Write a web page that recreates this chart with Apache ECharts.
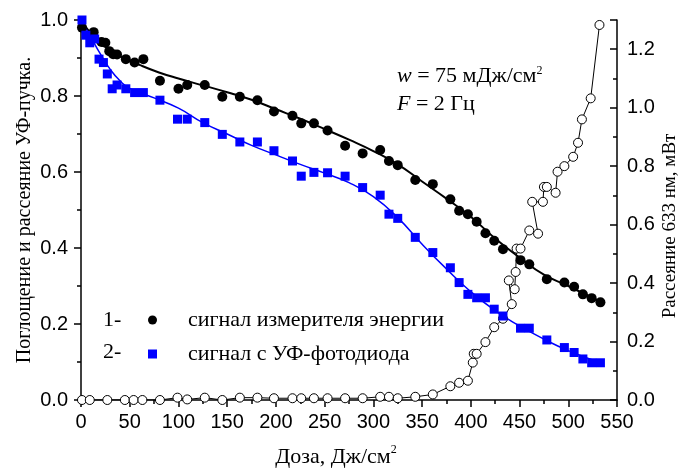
<!DOCTYPE html>
<html><head><meta charset="utf-8">
<script src="https://cdn.jsdelivr.net/npm/echarts@6/dist/echarts.min.js"></script>
<style>html,body{margin:0;padding:0;background:#fff}#c{width:682px;height:472px}</style>
</head><body><div id="c"></div>
<script>
// Series 1: energy meter signal (dose, relative)
const energyData = [[1,0.98],[13,0.968],[21,0.942],[25,0.94],[29,0.918],[33,0.91],[37,0.909],[46,0.897],[55,0.888],[64,0.897],[81,0.84],[100,0.819],[109,0.829],[127,0.829],[145,0.798],[163,0.798],[181,0.789],[198,0.759],[217,0.748],[226,0.728],[239,0.728],[253,0.709],[271,0.669],[289,0.649],[307,0.658],[316,0.629],[325,0.618],[343,0.579],[361,0.568],[379,0.528],[388,0.498],[397,0.489],[406,0.469],[415,0.439],[424,0.419],[433,0.397],[451,0.368],[460,0.357],[478,0.318],[496,0.309],[506,0.298],[515,0.278],[524,0.268],[533,0.257]];
// Series 2: UV photodiode signal
const diodeData = [[1,1.0],[5,0.96],[9,0.94],[14,0.95],[18.5,0.897],[23,0.888],[27,0.858],[32,0.819],[37,0.829],[46,0.819],[55,0.809],[64,0.809],[81,0.789],[99,0.739],[109,0.739],[127,0.73],[145,0.699],[163,0.679],[181,0.679],[198,0.656],[217,0.629],[226,0.589],[239,0.599],[253,0.598],[271,0.589],[289,0.559],[307,0.539],[316,0.489],[325,0.478],[343,0.428],[361,0.388],[379,0.348],[388,0.309],[397,0.278],[406,0.269],[415,0.269],[424,0.239],[433,0.221],[451,0.189],[460,0.189],[478,0.158],[496,0.138],[506,0.125],[515,0.108],[524,0.098],[533,0.098]];
// Fit curves
const energyFit = [[0,1.0],[10,0.965],[20,0.94],[30,0.92],[40,0.905],[60,0.882],[80,0.862],[100,0.846],[125,0.828],[150,0.81],[175,0.79],[200,0.765],[225,0.74],[250,0.713],[275,0.685],[300,0.655],[325,0.62],[350,0.575],[375,0.53],[400,0.482],[425,0.425],[450,0.375],[475,0.33],[500,0.3],[533,0.258]];
const diodeFit = [[0,1.0],[10,0.955],[20,0.91],[30,0.87],[40,0.84],[50,0.82],[75,0.795],[100,0.768],[125,0.73],[150,0.70],[175,0.67],[200,0.645],[225,0.62],[250,0.597],[275,0.572],[300,0.535],[325,0.48],[350,0.41],[375,0.345],[400,0.285],[425,0.235],[450,0.195],[475,0.16],[500,0.13],[533,0.098]];
// Series 3: 633 nm scattering, mW (right axis)
const scatterData = [[1,0],[9,0],[27,0],[45,0],[54,0],[63,0],[81,0],[99,0.008],[109,0.002],[127,0.008],[145,0],[163,0.008],[181,0.008],[198,0.006],[217,0.006],[226,0.006],[239,0.006],[253,0.006],[271,0.006],[289,0.006],[307,0.011],[316,0.011],[325,0.006],[343,0.011],[361,0.019],[379,0.047],[388,0.059],[397,0.066],[402,0.128],[403,0.158],[406,0.158],[415,0.198],[424,0.249],[433,0.278],[442,0.328],[439,0.409],[445,0.379],[446,0.438],[447,0.518],[451,0.518],[460,0.58],[469,0.569],[463,0.678],[474,0.678],[475,0.729],[478,0.729],[487,0.709],[489,0.781],[496,0.8],[505,0.832],[510,0.88],[514,0.96],[523,1.032],[532,1.283]];

const SANS = 'Liberation Sans';
const SERIF = 'Liberation Serif';
const chart = echarts.init(document.getElementById('c'), null, {renderer:'canvas'});
const axisLine = {show:true, lineStyle:{color:'#000', width:1.5}};
chart.setOption({
  animation:false,
  backgroundColor:'#fff',
  grid:{left:81, right:65, top:20, bottom:72, outerBoundsMode:'none', containLabel:false},
  legend:{
    orient:'vertical', left:143, top:304, itemWidth:9, itemHeight:9, itemGap:12,
    data:['сигнал измерителя энергии','сигнал с УФ-фотодиода'],
    textStyle:{fontFamily:SERIF, fontSize:22, color:'#000', padding:[0,0,0,26]}
  },
  xAxis:{
    type:'value', min:0, max:550, interval:50,
    name:'{a|Доза, Дж/см}{s|2}', nameLocation:'middle', nameGap:44, nameMoveOverlap:false,
    nameTextStyle:{padding:[0,26,0,0], rich:{a:{fontFamily:SERIF,fontSize:22,color:'#000',verticalAlign:'bottom'},s:{fontFamily:SERIF,fontSize:12,color:'#000',verticalAlign:'top',padding:[0,0,12,0]}}},
    axisLine:axisLine, axisTick:{show:true, length:7, lineStyle:{color:'#000',width:1.5}},
    minorTick:{show:true, splitNumber:2, length:4, lineStyle:{color:'#000',width:1.5}},
    axisLabel:{fontFamily:SANS, fontSize:20, color:'#000', margin:12},
    splitLine:{show:false}
  },
  yAxis:[{
    type:'value', min:0, max:1.0, interval:0.2, position:'left',
    name:'Поглощение и рассеяние УФ-пучка.', nameLocation:'middle', nameGap:46, nameRotate:90, nameMoveOverlap:false,
    nameTextStyle:{fontFamily:SERIF, fontSize:20, color:'#000'},
    axisLine:axisLine, axisTick:{show:true, length:7, lineStyle:{color:'#000',width:1.5}},
    minorTick:{show:true, splitNumber:2, length:4, lineStyle:{color:'#000',width:1.5}},
    axisLabel:{fontFamily:SANS, fontSize:20, color:'#000', margin:13, formatter:v=>v.toFixed(1)},
    splitLine:{show:false}
  },{
    type:'value', min:0, max:1.3, interval:0.2, position:'right',
    name:'Рассеяние 633 нм, мВт', nameLocation:'middle', nameGap:44, nameRotate:90, nameMoveOverlap:false,
    nameTextStyle:{fontFamily:SERIF, fontSize:19, color:'#000', padding:[0,32,0,0]},
    axisLine:axisLine, axisTick:{show:true, inside:true, length:7, lineStyle:{color:'#000',width:1.5}},
    minorTick:{show:true, splitNumber:2, length:4, lineStyle:{color:'#000',width:1.5}},
    axisLabel:{fontFamily:SANS, fontSize:20, color:'#000', margin:10,
      formatter:v=>(Math.abs(v/0.2-Math.round(v/0.2))<1e-6 ? v.toFixed(1) : '')},
    splitLine:{show:false}
  }],
  graphic:[
    {type:'text', left:397, top:65, style:{text:'{i|w} = 75 мДж/см{s|2}', font:'22px '+SERIF, fill:'#000',
      rich:{i:{fontStyle:'italic',fontFamily:SERIF,fontSize:22},s:{fontFamily:SERIF,fontSize:12,verticalAlign:'top',padding:[0,0,10,0]}}}},
    {type:'text', left:397, top:93, style:{text:'{i|F} = 2 Гц', font:'22px '+SERIF, fill:'#000',
      rich:{i:{fontStyle:'italic',fontFamily:SERIF,fontSize:22}}}},
    {type:'text', left:103, top:309, style:{text:'1-', font:'22px '+SERIF, fill:'#000'}},
    {type:'text', left:103, top:341, style:{text:'2-', font:'22px '+SERIF, fill:'#000'}}
  ],
  series:[
    {name:'fit1', type:'line', data:energyFit, smooth:true, showSymbol:false, symbol:'none', lineStyle:{color:'#000', width:2}, z:2},
    {name:'fit2', type:'line', data:diodeFit, smooth:true, showSymbol:false, symbol:'none', lineStyle:{color:'#0000ff', width:1.5}, z:2},
    {name:'сигнал измерителя энергии', type:'scatter', data:energyData, symbol:'circle', symbolSize:10, itemStyle:{color:'#000', opacity:1}, z:4},
    {name:'сигнал с УФ-фотодиода', type:'scatter', data:diodeData, symbol:'rect', symbolSize:9, itemStyle:{color:'#0000ff', opacity:1}, z:4},
    {name:'scatter633', type:'line', yAxisIndex:1, data:scatterData, symbol:'circle', symbolSize:9, showAllSymbol:true,
      lineStyle:{color:'#000', width:1}, itemStyle:{color:'#fff', borderColor:'#000', borderWidth:1, opacity:1}, z:3}
  ]
});
</script></body></html>
